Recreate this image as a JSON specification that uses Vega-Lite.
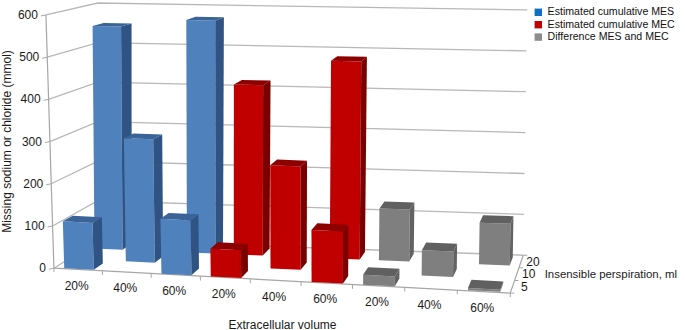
{"$schema":"https://vega.github.io/schema/vega-lite/v6.json","width":685,"height":330,"autosize":{"type":"fit","contains":"padding"},"padding":0,"background":"white","config":{"view":{"stroke":null},"font":"Liberation Sans","text":{"font":"Liberation Sans","fontSize":12,"color":"#1a1a1a"}},
"datasets":{
"bars":[
{"series":"Estimated cumulative MES","ecv":"20%","category":0,"perspiration":20,"value":552},
{"series":"Estimated cumulative MES","ecv":"60%","category":2,"perspiration":20,"value":572},
{"series":"Estimated cumulative MEC","ecv":"20%","category":3,"perspiration":20,"value":417},
{"series":"Estimated cumulative MEC","ecv":"60%","category":5,"perspiration":20,"value":481},
{"series":"Difference MES and MEC","ecv":"20%","category":6,"perspiration":20,"value":126},
{"series":"Difference MES and MEC","ecv":"60%","category":8,"perspiration":20,"value":100},
{"series":"Estimated cumulative MES","ecv":"40%","category":1,"perspiration":10,"value":297},
{"series":"Estimated cumulative MEC","ecv":"40%","category":4,"perspiration":10,"value":246},
{"series":"Difference MES and MEC","ecv":"40%","category":7,"perspiration":10,"value":60},
{"series":"Estimated cumulative MES","ecv":"20%","category":0,"perspiration":5,"value":111},
{"series":"Estimated cumulative MES","ecv":"60%","category":2,"perspiration":5,"value":129},
{"series":"Estimated cumulative MEC","ecv":"20%","category":3,"perspiration":5,"value":65},
{"series":"Estimated cumulative MEC","ecv":"60%","category":5,"perspiration":5,"value":121},
{"series":"Difference MES and MEC","ecv":"20%","category":6,"perspiration":5,"value":23},
{"series":"Difference MES and MEC","ecv":"60%","category":8,"perspiration":5,"value":5}
],
"ticks":[{"mmol":0},{"mmol":100},{"mmol":200},{"mmol":300},{"mmol":400},{"mmol":500},{"mmol":600}],
"cats":[{"category":0,"ecv":"20%"},{"category":1,"ecv":"40%"},{"category":2,"ecv":"60%"},{"category":3,"ecv":"20%"},{"category":4,"ecv":"40%"},{"category":5,"ecv":"60%"},{"category":6,"ecv":"20%"},{"category":7,"ecv":"40%"},{"category":8,"ecv":"60%"},{"category":9,"ecv":""}],
"depths":[{"perspiration":5,"pos":0.17},{"perspiration":10,"pos":0.5},{"perspiration":20,"pos":0.83}],
"edges":[{"edge":"axis"},{"edge":"front"},{"edge":"right"}],
"depthTicks":[{"pos":0},{"pos":0.333},{"pos":0.667},{"pos":1}]
},
"layer":[
{"data":{"name":"ticks"},
"transform":[
{"calculate":"[{k:0,u:0,d:0},{k:1,u:0,d:1},{k:2,u:9,d:1}]","as":"pt"},{"flatten":["pt"]},
{"calculate":"datum.pt.u","as":"u"},{"calculate":"datum.pt.d","as":"d"},{"calculate":"datum.mmol","as":"v"},
{"calculate":"(1-datum.d)*((1-datum.u/9)*(53-8*datum.v/600)+datum.u/9*(510+5*datum.v/600))+datum.d*((1-datum.u/9)*97+datum.u/9*(523+4*datum.v/600))","as":"sx"},
{"calculate":"(1-datum.d)*((1-datum.u/9)*(268-254*datum.v/600)+datum.u/9*(293-262*datum.v/600))+datum.d*((1-datum.u/9)*(240-238*datum.v/600)+datum.u/9*(255-246*datum.v/600))","as":"sy"}],
"mark":{"type":"line","stroke":"#b8b8b8","strokeWidth":1.3},
"encoding":{
"x":{"field":"sx","type":"quantitative","scale":{"domain":[0,685],"nice":false,"zero":false},"axis":{"domain":false,"ticks":false,"labels":false,"grid":false,"title":"Extracellular volume","titleFont":"Liberation Sans","titleFontSize":12,"titleFontWeight":"normal","titleColor":"#1a1a1a","titleX":281,"titleY":-2,"titleBaseline":"alphabetic"}},
"y":{"field":"sy","type":"quantitative","scale":{"domain":[330,0],"nice":false,"zero":false},"axis":{"domain":false,"ticks":false,"labels":false,"grid":false,"title":"Missing sodium or chloride (mmol)","titleFont":"Liberation Sans","titleFontSize":12,"titleFontWeight":"normal","titleColor":"#1a1a1a","titleX":12,"titleY":140}},
"detail":{"field":"mmol"},
"order":{"field":"pt.k","type":"quantitative"}}},
{"data":{"name":"edges"},
"transform":[
{"calculate":"datum.edge=='axis'?[{k:0,u:0,d:0,v:0},{k:1,u:0,d:0,v:600}]:datum.edge=='front'?[{k:0,u:0,d:0,v:0},{k:1,u:9,d:0,v:0}]:[{k:0,u:9,d:0,v:0},{k:1,u:9,d:1,v:0}]","as":"pt"},{"flatten":["pt"]},
{"calculate":"datum.pt.u","as":"u"},{"calculate":"datum.pt.d","as":"d"},{"calculate":"datum.pt.v","as":"v"},
{"calculate":"(1-datum.d)*((1-datum.u/9)*(53-8*datum.v/600)+datum.u/9*(510+5*datum.v/600))+datum.d*((1-datum.u/9)*97+datum.u/9*(523+4*datum.v/600))","as":"sx"},
{"calculate":"(1-datum.d)*((1-datum.u/9)*(268-254*datum.v/600)+datum.u/9*(293-262*datum.v/600))+datum.d*((1-datum.u/9)*(240-238*datum.v/600)+datum.u/9*(255-246*datum.v/600))","as":"sy"}],
"mark":{"type":"line","stroke":"#a6a6a6","strokeWidth":1.2},
"encoding":{"x":{"field":"sx","type":"quantitative"},"y":{"field":"sy","type":"quantitative"},"detail":{"field":"edge"},"order":{"field":"pt.k","type":"quantitative"}}},
{"data":{"name":"ticks"},
"transform":[{"calculate":"53-8*datum.mmol/600","as":"sx"},{"calculate":"268-254*datum.mmol/600","as":"sy"},{"calculate":"datum.sx-5","as":"sx2"},{"calculate":"datum.sy+1","as":"sy2"}],
"mark":{"type":"rule","stroke":"#a6a6a6"},
"encoding":{"x":{"field":"sx","type":"quantitative"},"y":{"field":"sy","type":"quantitative"},"x2":{"field":"sx2"},"y2":{"field":"sy2"}}},
{"data":{"name":"cats"},
"transform":[{"calculate":"53+(510-53)*datum.category/9-6.5*sin(PI*datum.category/9)","as":"sx"},{"calculate":"268+25*datum.category/9","as":"sy"},{"calculate":"datum.sy+4","as":"sy2"}],
"mark":{"type":"rule","stroke":"#a6a6a6"},
"encoding":{"x":{"field":"sx","type":"quantitative"},"y":{"field":"sy","type":"quantitative"},"x2":{"field":"sx"},"y2":{"field":"sy2"}}},
{"data":{"name":"depthTicks"},
"transform":[{"calculate":"510+13*datum.pos","as":"sx"},{"calculate":"293-38*datum.pos","as":"sy"},{"calculate":"datum.sx+4","as":"sx2"}],
"mark":{"type":"rule","stroke":"#a6a6a6"},
"encoding":{"x":{"field":"sx","type":"quantitative"},"y":{"field":"sy","type":"quantitative"},"x2":{"field":"sx2"},"y2":{"field":"sy"}}},
{"data":{"name":"bars"},
"transform":[
{"calculate":"datum.perspiration==5?0.02:datum.perspiration==10?0.35:0.72","as":"d0"},
{"calculate":"datum.d0+0.22","as":"d1"},
{"calculate":"datum.category+0.195","as":"uL"},{"calculate":"datum.category+0.805","as":"uR"},
{"calculate":"[{f:'front',k:0,u:datum.uL,d:datum.d0,v:0},{f:'front',k:1,u:datum.uR,d:datum.d0,v:0},{f:'front',k:2,u:datum.uR,d:datum.d0,v:datum.value},{f:'front',k:3,u:datum.uL,d:datum.d0,v:datum.value},{f:'side',k:0,u:datum.uR,d:datum.d0,v:0},{f:'side',k:1,u:datum.uR,d:datum.d1,v:0},{f:'side',k:2,u:datum.uR,d:datum.d1,v:datum.value},{f:'side',k:3,u:datum.uR,d:datum.d0,v:datum.value},{f:'top',k:0,u:datum.uL,d:datum.d0,v:datum.value},{f:'top',k:1,u:datum.uR,d:datum.d0,v:datum.value},{f:'top',k:2,u:datum.uR,d:datum.d1,v:datum.value},{f:'top',k:3,u:datum.uL,d:datum.d1,v:datum.value}]","as":"pt"},
{"flatten":["pt"]},
{"calculate":"datum.pt.u","as":"u"},{"calculate":"datum.pt.d","as":"d"},{"calculate":"datum.pt.v","as":"v"},
{"calculate":"datum.series+'|'+datum.pt.f","as":"shade"},
{"calculate":"datum.category+'-'+datum.perspiration+'-'+datum.pt.f","as":"face"},
{"calculate":"(1-datum.d)*((1-datum.u/9)*(53-8*datum.v/600)+datum.u/9*(510+5*datum.v/600))+datum.d*((1-datum.u/9)*97+datum.u/9*(523+4*datum.v/600))-6.5*sin(PI*datum.u/9)","as":"sx"},
{"calculate":"(1-datum.d)*((1-datum.u/9)*(268-254*datum.v/600)+datum.u/9*(293-262*datum.v/600))+datum.d*((1-datum.u/9)*(240-238*datum.v/600)+datum.u/9*(255-246*datum.v/600))","as":"sy"}],
"mark":{"type":"line","strokeWidth":0,"filled":true,"interpolate":"linear"},
"encoding":{"x":{"field":"sx","type":"quantitative"},"y":{"field":"sy","type":"quantitative"},
"detail":{"field":"face"},
"order":{"field":"pt.k","type":"quantitative"},
"fill":{"field":"shade","type":"nominal","legend":null,"scale":{"domain":["Estimated cumulative MES|front","Estimated cumulative MES|side","Estimated cumulative MES|top","Estimated cumulative MEC|front","Estimated cumulative MEC|side","Estimated cumulative MEC|top","Difference MES and MEC|front","Difference MES and MEC|side","Difference MES and MEC|top"],"range":["#4f81bd","#2f5382","#3a6398","#c00000","#7a0000","#8c0000","#7f7f7f","#626262","#606060"]}}}},
{"data":{"name":"bars"},
"transform":[{"calculate":"100","as":"sx"},{"calculate":"100","as":"sy"}],
"mark":{"type":"square","opacity":0},
"encoding":{"x":{"field":"sx","type":"quantitative"},"y":{"field":"sy","type":"quantitative"},
"color":{"field":"series","type":"nominal","scale":{"domain":["Estimated cumulative MES","Estimated cumulative MEC","Difference MES and MEC"],"range":["#0f6fc6","#c00000","#8c8c8c"]},"legend":{"title":null,"orient":"none","legendX":532,"legendY":6,"symbolType":"square","symbolSize":55,"symbolOpacity":1,"labelFont":"Liberation Sans","labelFontSize":10.6,"labelColor":"#111111","rowPadding":1.4,"labelOffset":4,"symbolStrokeWidth":0}}}},
{"data":{"name":"ticks"},
"transform":[{"calculate":"53-8*datum.mmol/600-8","as":"sx"},{"calculate":"268-254*datum.mmol/600","as":"sy"}],
"mark":{"type":"text","align":"right","baseline":"middle","fontSize":12},
"encoding":{"x":{"field":"sx","type":"quantitative"},"y":{"field":"sy","type":"quantitative"},"text":{"field":"mmol","type":"nominal"}}},
{"data":{"name":"cats"},
"transform":[{"filter":"datum.category<9"},{"calculate":"53+(510-53)*(datum.category+0.5)/9-6.5*sin(PI*(datum.category+0.5)/9)-1.5","as":"sx"},{"calculate":"268+25*(datum.category+0.5)/9+16","as":"sy"}],
"mark":{"type":"text","align":"center","baseline":"middle","fontSize":12},
"encoding":{"x":{"field":"sx","type":"quantitative"},"y":{"field":"sy","type":"quantitative"},"text":{"field":"ecv","type":"nominal"}}},
{"data":{"name":"depths"},
"transform":[{"calculate":"510+13*datum.pos+12","as":"sx"},{"calculate":"293-38*datum.pos","as":"sy"}],
"mark":{"type":"text","align":"center","baseline":"middle","fontSize":12},
"encoding":{"x":{"field":"sx","type":"quantitative"},"y":{"field":"sy","type":"quantitative"},"text":{"field":"perspiration","type":"nominal"}}},
{"data":{"values":[{"name":"Insensible perspiration, ml","pos":0.5}]},
"transform":[{"calculate":"510+13*datum.pos+28","as":"sx"},{"calculate":"293-38*datum.pos+1","as":"sy"}],
"mark":{"type":"text","align":"left","baseline":"middle","fontSize":11.4},
"encoding":{"x":{"field":"sx","type":"quantitative"},"y":{"field":"sy","type":"quantitative"},"text":{"field":"name","type":"nominal"}}}
]}
